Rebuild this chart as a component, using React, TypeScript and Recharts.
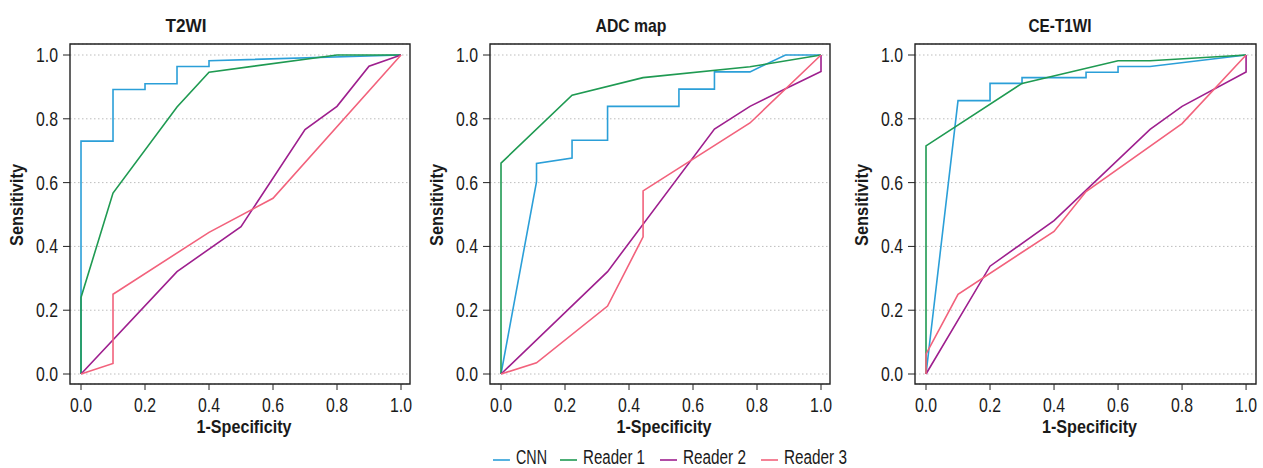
import { CartesianGrid, Label, Line, LineChart, ReferenceArea, XAxis, YAxis } from "recharts";

const FONT = "'Liberation Sans', Arial, sans-serif";
const INK = "#1a1a1a";
const BOX = "#222";

const SERIES = ["CNN", "Reader 1", "Reader 2", "Reader 3"];
const COLORS = ["#2b9fd8", "#1f9a52", "#9e1f8e", "#f2627c"];
const TICKS = [0, 0.2, 0.4, 0.6, 0.8, 1.0];
const Y_DOMAIN: [number, number] = [-0.0313, 1.0345];

// [1-specificity, sensitivity]
const T2WI_CNN = [[0, 0], [0, 0.73], [0.1, 0.73], [0.1, 0.892], [0.2, 0.892], [0.2, 0.91], [0.3, 0.91], [0.3, 0.964], [0.4, 0.964], [0.4, 0.982], [1, 1]];
const T2WI_R1 = [[0, 0], [0, 0.24], [0.1, 0.567], [0.3, 0.837], [0.4, 0.946], [0.8, 1], [1, 1]];
const T2WI_R2 = [[0, 0], [0.3, 0.321], [0.5, 0.462], [0.7, 0.766], [0.8, 0.839], [0.9, 0.965], [1, 1]];
const T2WI_R3 = [[0, 0], [0.1, 0.033], [0.1, 0.25], [0.4, 0.444], [0.6, 0.551], [1, 1]];

const ADC_CNN = [[0, 0], [0.111, 0.603], [0.111, 0.66], [0.222, 0.677], [0.222, 0.733], [0.333, 0.733], [0.333, 0.839], [0.556, 0.839], [0.556, 0.893], [0.667, 0.893], [0.667, 0.947], [0.778, 0.947], [0.889, 1], [1, 1]];
const ADC_R1 = [[0, 0], [0, 0.661], [0.222, 0.874], [0.444, 0.929], [0.778, 0.963], [1, 1]];
const ADC_R2 = [[0, 0], [0.333, 0.321], [0.667, 0.768], [0.778, 0.839], [0.889, 0.894], [1, 0.948], [1, 1]];
const ADC_R3 = [[0, 0], [0.111, 0.035], [0.333, 0.213], [0.444, 0.43], [0.444, 0.574], [0.778, 0.787], [1, 1]];

const CE_CNN = [[0, 0], [0.1, 0.857], [0.2, 0.857], [0.2, 0.911], [0.3, 0.911], [0.3, 0.929], [0.5, 0.929], [0.5, 0.946], [0.6, 0.946], [0.6, 0.964], [0.7, 0.964], [1, 1]];
const CE_R1 = [[0, 0], [0, 0.715], [0.3, 0.911], [0.6, 0.982], [0.7, 0.982], [1, 1]];
const CE_R2 = [[0, 0], [0.2, 0.338], [0.4, 0.481], [0.7, 0.767], [0.8, 0.839], [1, 0.947], [1, 1]];
const CE_R3 = [[0, 0], [0, 0.062], [0.1, 0.25], [0.4, 0.447], [0.5, 0.572], [0.8, 0.785], [1, 1]];

const toPoints = (rows: number[][]) => rows.map(([x, y]) => ({ x, y }));

const PANELS = [
  { title: "T2WI", titleX: 186, titleW: 41, left: 0, width: 420, right: 10, xDomain: [-0.0344, 1.0281], curves: [T2WI_CNN, T2WI_R1, T2WI_R2, T2WI_R3] },
  { title: "ADC map", titleX: 631, titleW: 71, left: 420, width: 420, right: 10, xDomain: [-0.0344, 1.0281], curves: [ADC_CNN, ADC_R1, ADC_R2, ADC_R3] },
  { title: "CE-T1WI", titleX: 1060, titleW: 63, left: 845, width: 418, right: 7, xDomain: [-0.0344, 1.031], curves: [CE_CNN, CE_R1, CE_R2, CE_R3] },
];

// legend layout: left edge of each key line, text widths (condensed face is faked with textLength)
const LEGEND_X = [493, 560, 660, 761];
const LEGEND_W = [31, 62, 63, 63];

// the original uses a condensed face; squeeze glyphs to the measured widths
function Squeezed({ x, y, w, anchor = "middle", bold = false, size = 21, children, transform }: any) {
  return (
    <text
      x={x}
      y={y}
      transform={transform}
      textAnchor={anchor}
      textLength={w}
      lengthAdjust="spacingAndGlyphs"
      fontFamily={FONT}
      fontWeight={bold ? "bold" : "normal"}
      fontSize={size}
      fill={INK}
    >
      {children}
    </text>
  );
}

function XTick(props: any) {
  return (
    <Squeezed x={props.x} y={props.y + 14} w={22}>
      {Number(props.payload.value).toFixed(1)}
    </Squeezed>
  );
}

function YTick(props: any) {
  return (
    <Squeezed x={props.x} y={props.y + 7} w={22} anchor="end">
      {Number(props.payload.value).toFixed(1)}
    </Squeezed>
  );
}

function XTitle(props: any) {
  const vb = props.viewBox;
  return (
    <Squeezed x={vb.x + vb.width / 2 + 4} y={vb.y + vb.height - 1} w={95} bold size={19}>
      1-Specificity
    </Squeezed>
  );
}

function YTitle(props: any) {
  const vb = props.viewBox;
  const x = vb.x + 23;
  const y = vb.y + vb.height / 2 - 9;
  return (
    <Squeezed x={x} y={y} w={82} bold size={19} transform={`rotate(-90, ${x}, ${y})`}>
      Sensitivity
    </Squeezed>
  );
}

function RocPanel({ panel }: { panel: (typeof PANELS)[number] }) {
  const xDomain = panel.xDomain as [number, number];
  return (
    <div style={{ position: "absolute", left: panel.left, top: 0, width: panel.width, height: 468 }}>
      <LineChart width={panel.width} height={468} margin={{ top: 44, right: panel.right, bottom: 34, left: 0 }}>
        <CartesianGrid vertical={false} stroke="#bdbdbd" strokeDasharray="1.5 2.5" />
        <XAxis
          dataKey="x"
          type="number"
          domain={xDomain}
          allowDataOverflow
          ticks={TICKS}
          interval={0}
          axisLine={false}
          tickSize={6}
          tickMargin={8}
          height={50}
          tick={XTick}
          tickLine={{ stroke: BOX }}
        >
          <Label content={XTitle} />
        </XAxis>
        <YAxis
          type="number"
          domain={Y_DOMAIN}
          allowDataOverflow
          ticks={TICKS}
          interval={0}
          axisLine={false}
          tickSize={7}
          tickMargin={5}
          width={70}
          tick={YTick}
          tickLine={{ stroke: BOX }}
        >
          <Label content={YTitle} />
        </YAxis>
        <ReferenceArea x1={xDomain[0]} x2={xDomain[1]} y1={Y_DOMAIN[0]} y2={Y_DOMAIN[1]} fill="none" stroke={BOX} strokeWidth={1.4} ifOverflow="visible" />
        {panel.curves.map((rows, i) => (
          <Line
            key={SERIES[i]}
            name={SERIES[i]}
            data={toPoints(rows)}
            dataKey="y"
            type="linear"
            stroke={COLORS[i]}
            strokeWidth={1.6}
            dot={false}
            activeDot={false}
            isAnimationActive={false}
          />
        ))}
      </LineChart>
    </div>
  );
}

function Overlay() {
  return (
    <svg width={1263} height={468} style={{ position: "absolute", left: 0, top: 0, pointerEvents: "none" }}>
      {PANELS.map((p) => (
        <Squeezed key={p.title} x={p.titleX} y={32} w={p.titleW} bold size={19}>
          {p.title}
        </Squeezed>
      ))}
      {SERIES.map((name, i) => (
        <g key={name}>
          <line x1={LEGEND_X[i]} y1={460} x2={LEGEND_X[i] + 17} y2={460} stroke={COLORS[i]} strokeWidth={1.6} />
          <Squeezed x={LEGEND_X[i] + 23} y={464} w={LEGEND_W[i]} anchor="start" size={20}>
            {name}
          </Squeezed>
        </g>
      ))}
    </svg>
  );
}

export default function App() {
  return (
    <div style={{ position: "absolute", left: 0, top: 0, width: 1263, height: 468, background: "#fff", overflow: "hidden" }}>
      {PANELS.map((p) => (
        <RocPanel key={p.title} panel={p} />
      ))}
      <Overlay />
    </div>
  );
}
